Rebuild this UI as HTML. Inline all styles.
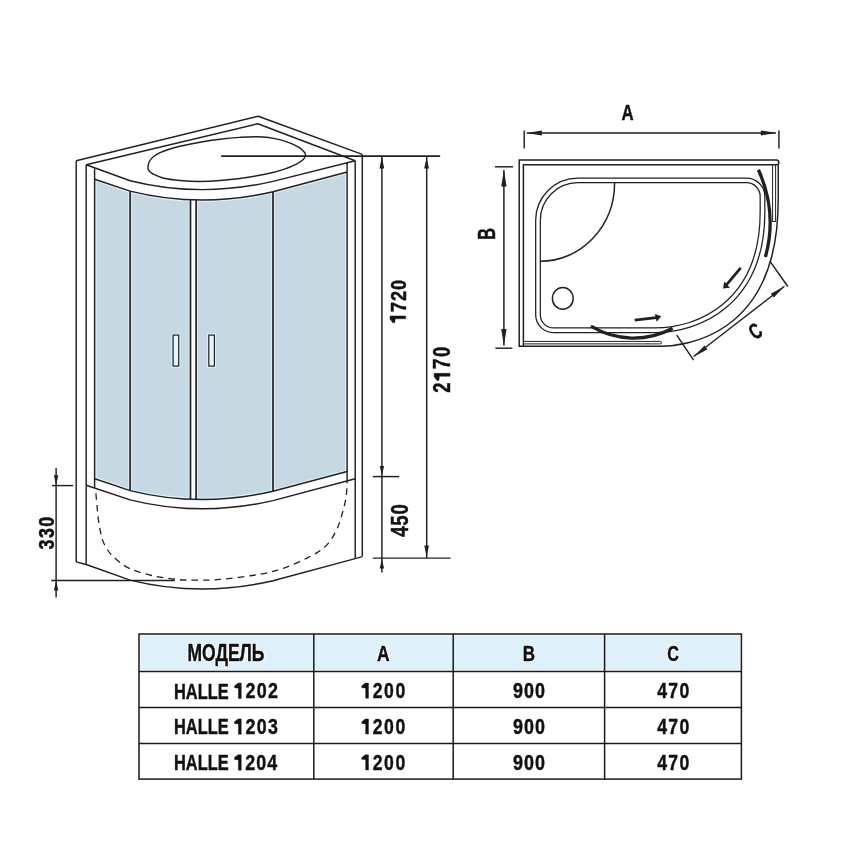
<!DOCTYPE html>
<html><head><meta charset="utf-8"><style>
html,body{margin:0;padding:0;background:#fff;}
svg{display:block;will-change:transform;}
text{font-family:"Liberation Sans",sans-serif;font-weight:bold;fill:#111;}
</style></head><body>
<svg width="850" height="850" viewBox="0 0 850 850">
<rect width="850" height="850" fill="#fff"/>
<defs><clipPath id="gc"><path d="M94.8,179.3 L130.1,191.1 Q200,208.6 273,191.8 L347.1,172 L347.1,471.5 L273,491.3 Q200,508.1 130.1,490.6 L94.8,478.8 Z"/></clipPath></defs>
<path d="M94.8,179.3 L130.1,191.1 Q200,208.6 273,191.8 L347.1,172 L347.1,471.5 L273,491.3 Q200,508.1 130.1,490.6 L94.8,478.8 Z" fill="#c6d9e3"/>
<g clip-path="url(#gc)">
<line x1="94.7" y1="150" x2="94.7" y2="520" stroke="#dbf0f8" stroke-width="3.8" fill="none"/>
<line x1="130.1" y1="150" x2="130.1" y2="520" stroke="#dbf0f8" stroke-width="3.8" fill="none"/>
<line x1="190.5" y1="150" x2="190.5" y2="520" stroke="#dbf0f8" stroke-width="3.8" fill="none"/>
<line x1="196.1" y1="150" x2="196.1" y2="520" stroke="#dbf0f8" stroke-width="3.8" fill="none"/>
<line x1="273" y1="150" x2="273" y2="520" stroke="#dbf0f8" stroke-width="3.8" fill="none"/>
<line x1="347.1" y1="150" x2="347.1" y2="520" stroke="#dbf0f8" stroke-width="3.8" fill="none"/>
<path d="M94.8,179.3 L130.1,191.1 Q200,208.6 273,191.8 L347.1,172.0" stroke="#dbf0f8" stroke-width="3.8" fill="none"/>
<path d="M94.8,478.8 L130.1,490.6 Q200,508.1 273,491.3 L347.1,471.5" stroke="#dbf0f8" stroke-width="3.8" fill="none"/>
</g>
<rect x="190.5" y="190" width="5.6" height="320" fill="#fff" clip-path="url(#gc)"/>
<g clip-path="url(#gc)">
<line x1="130.1" y1="160" x2="130.1" y2="520" stroke="#231f20" stroke-width="1.7" />
<line x1="190.5" y1="160" x2="190.5" y2="520" stroke="#231f20" stroke-width="1.7" />
<line x1="196.1" y1="160" x2="196.1" y2="520" stroke="#231f20" stroke-width="1.7" />
<line x1="273" y1="160" x2="273" y2="520" stroke="#231f20" stroke-width="1.7" />
</g>
<path d="M94.8,179.3 L130.1,191.1 Q200,208.6 273,191.8 L347.1,172.0" fill="none" stroke="#231f20" stroke-width="1.45" stroke-linejoin="round"/>
<path d="M94.8,478.8 L130.1,490.6 Q200,508.1 273,491.3 L347.1,471.5" fill="none" stroke="#231f20" stroke-width="1.45" stroke-linejoin="round"/>
<path d="M86.2,164.8 L130.1,180.7 Q200,198.2 273,181.4 L355.2,160.7" fill="none" stroke="#231f20" stroke-width="1.45" stroke-linejoin="round"/>
<path d="M86.2,485.2 L130.1,499.9 Q200,517.4 273,500.6 L355.2,478.8" fill="none" stroke="#231f20" stroke-width="1.45" stroke-linejoin="round"/>
<path d="M76.2,561.9 L86.2,564.5 L130.1,580.1 Q200,597.6 273,580.8 L355.2,558.6 L362.3,556.6" fill="none" stroke="#231f20" stroke-width="1.45" stroke-linejoin="round"/>
<line x1="76.2" y1="160.8" x2="76.2" y2="562" stroke="#231f20" stroke-width="1.45" />
<line x1="86.2" y1="164.8" x2="86.2" y2="564.5" stroke="#231f20" stroke-width="1.45" />
<line x1="94.6" y1="168.4" x2="94.6" y2="488" stroke="#231f20" stroke-width="1.45" />
<line x1="347.1" y1="162.4" x2="347.1" y2="480.6" stroke="#231f20" stroke-width="1.45" />
<line x1="355.2" y1="160.7" x2="355.2" y2="558.6" stroke="#231f20" stroke-width="1.45" />
<line x1="362.3" y1="154.4" x2="362.3" y2="556.6" stroke="#231f20" stroke-width="1.45" />
<path d="M76.2,160.8 L258.2,116.2 L362.3,154.4" fill="none" stroke="#231f20" stroke-width="1.45" stroke-linejoin="round"/>
<path d="M86.2,164.8 L257.8,123.7 L355.2,160.7" fill="none" stroke="#231f20" stroke-width="1.45" stroke-linejoin="round"/>
<path d="M147.90,167.60 C148.00,165.97 148.58,162.90 149.60,161.00 C150.62,159.10 152.27,157.60 154.00,156.20 C155.73,154.80 157.33,153.80 160.00,152.60 C162.67,151.40 166.67,150.05 170.00,149.00 C173.33,147.95 175.00,147.43 180.00,146.30 C185.00,145.17 193.33,143.38 200.00,142.20 C206.67,141.02 213.33,140.00 220.00,139.20 C226.67,138.40 233.67,137.80 240.00,137.40 C246.33,137.00 252.17,136.60 258.00,136.80 C263.83,137.00 269.83,137.63 275.00,138.60 C280.17,139.57 285.00,141.13 289.00,142.60 C293.00,144.07 296.40,145.75 299.00,147.40 C301.60,149.05 303.55,151.15 304.60,152.50 C305.65,153.85 305.48,154.37 305.30,155.50 C305.12,156.63 304.88,157.92 303.50,159.30 C302.12,160.68 300.42,162.08 297.00,163.80 C293.58,165.52 288.33,167.85 283.00,169.60 C277.67,171.35 272.17,172.82 265.00,174.30 C257.83,175.78 247.50,177.47 240.00,178.50 C232.50,179.53 226.67,180.02 220.00,180.50 C213.33,180.98 206.67,181.40 200.00,181.40 C193.33,181.40 186.17,181.07 180.00,180.50 C173.83,179.93 167.50,179.08 163.00,178.00 C158.50,176.92 155.33,175.20 153.00,174.00 C150.67,172.80 149.85,171.87 149.00,170.80 C148.15,169.73 147.80,169.23 147.90,167.60 Z" fill="none" stroke="#231f20" stroke-width="1.45" stroke-linejoin="round"/>
<rect x="173.1" y="335.1" width="5.6" height="31" fill="none" stroke="#dbf0f8" stroke-width="3.4"/>
<rect x="173.1" y="335.1" width="5.6" height="31" fill="#e2f6fc" stroke="#231f20" stroke-width="1.2"/>
<rect x="208.8" y="335.1" width="5.6" height="31" fill="none" stroke="#dbf0f8" stroke-width="3.4"/>
<rect x="208.8" y="335.1" width="5.6" height="31" fill="#e2f6fc" stroke="#231f20" stroke-width="1.2"/>
<path d="M95.90,493.20 C96.12,495.67 96.75,503.33 97.20,508.00 C97.65,512.67 97.97,516.87 98.60,521.20 C99.23,525.53 100.05,530.17 101.00,534.00 C101.95,537.83 102.40,540.57 104.30,544.20 C106.20,547.83 108.32,551.82 112.40,555.80 C116.48,559.78 122.22,564.82 128.80,568.10 C135.38,571.38 143.65,573.58 151.90,575.50 C160.15,577.42 170.28,578.83 178.30,579.60 C186.32,580.37 193.05,580.13 200.00,580.10 C206.95,580.07 210.78,580.25 220.00,579.40 C229.22,578.55 245.00,576.77 255.30,575.00 C265.60,573.23 272.98,571.73 281.80,568.80 C290.62,565.87 300.85,561.22 308.20,557.40 C315.55,553.58 321.05,550.77 325.90,545.90 C330.75,541.03 334.22,534.97 337.30,528.20 C340.38,521.43 342.85,511.33 344.40,505.30 C345.95,499.27 346.15,496.12 346.60,492.00 C347.05,487.88 347.02,482.50 347.10,480.60 " fill="none" stroke="#231f20" stroke-width="1.3" stroke-dasharray="6.6 5"/>
<line x1="221.6" y1="156.1" x2="439.5" y2="156.1" stroke="#231f20" stroke-width="1.6" stroke-linecap="round"/>
<line x1="381.9" y1="156" x2="381.9" y2="572.6" stroke="#231f20" stroke-width="1.45" />
<line x1="426.7" y1="156" x2="426.7" y2="558.1" stroke="#231f20" stroke-width="1.45" />
<line x1="372.8" y1="476.6" x2="399.2" y2="476.6" stroke="#231f20" stroke-width="1.45" />
<line x1="372.8" y1="558.1" x2="450.6" y2="558.1" stroke="#231f20" stroke-width="1.45" />
<path d="M381.9,156.6 L384.2,168.6 L379.5,168.6 Z" fill="#231f20"/>
<path d="M381.9,475.6 L379.7,466.1 L384.1,466.1 Z" fill="#231f20"/>
<path d="M381.9,559.0 L384.1,568.5 L379.7,568.5 Z" fill="#231f20"/>
<path d="M426.6,157.4 L429.0,168.6 L424.2,168.6 Z" fill="#231f20"/>
<path d="M426.6,557.2 L424.3,545.6 L428.9,545.6 Z" fill="#231f20"/>
<line x1="56.1" y1="467.9" x2="56.1" y2="597.6" stroke="#231f20" stroke-width="1.45" />
<line x1="52" y1="485.6" x2="73.2" y2="485.6" stroke="#231f20" stroke-width="1.45" />
<line x1="51.2" y1="580.5" x2="174.7" y2="580.5" stroke="#231f20" stroke-width="1.45" />
<path d="M56.1,485.3 L53.9,475.3 L58.3,475.3 Z" fill="#231f20"/>
<path d="M56.1,580.9 L58.3,590.6 L53.9,590.6 Z" fill="#231f20"/>
<line x1="524.2" y1="130.5" x2="524.2" y2="148.4" stroke="#231f20" stroke-width="1.45" />
<line x1="778.9" y1="130.5" x2="778.9" y2="148.4" stroke="#231f20" stroke-width="1.45" />
<line x1="526.7" y1="132.9" x2="775.9" y2="132.9" stroke="#231f20" stroke-width="1.45" />
<path d="M526.5,132.9 L541.9,130.4 L541.9,135.4 Z" fill="#231f20"/>
<path d="M776.2,132.9 L760.8,135.4 L760.8,130.4 Z" fill="#231f20"/>
<line x1="495" y1="166.8" x2="513" y2="166.8" stroke="#231f20" stroke-width="1.45" />
<line x1="495.4" y1="348.2" x2="512.4" y2="348.2" stroke="#231f20" stroke-width="1.45" />
<line x1="503.9" y1="170" x2="503.9" y2="345.4" stroke="#231f20" stroke-width="1.5" />
<path d="M503.9,169.9 L506.6,186.4 L501.2,186.4 Z" fill="#231f20"/>
<path d="M503.9,345.5 L501.2,329.0 L506.6,329.0 Z" fill="#231f20"/>
<path d="M776.5,160.1 L519.2,160.1 L519.2,346.2 L523.4,346.2 L523.4,164.7 L776.5,164.7 A2.3,2.3 0 0 0 776.5,160.1" fill="#fff" stroke="#231f20" stroke-width="1.5" stroke-linejoin="miter"/>
<path d="M778.2,165 L778.2,200 C778.2,337.7 683.1,346.3 660,346.3 L523.4,346.3" fill="none" stroke="#231f20" stroke-width="1.45" stroke-linejoin="round"/>
<rect x="772.6" y="165" width="3" height="56.5" fill="#fff" stroke="#231f20" stroke-width="1"/>
<rect x="523.5" y="341.4" width="138" height="2.5" rx="1.2" fill="#fff" stroke="#231f20" stroke-width="1"/>
<path d="M578,180.4 L746.5,180.4 A16,16 0 0 1 762.5,196.4 L762.5,212 C762.5,303.7 698.3,330.3 655,330.3 L553.5,330.3 A15.5,15.5 0 0 1 538,314.8 L538,220.4 A40,40 0 0 1 578,180.4 Z" fill="none" stroke="#231f20" stroke-width="5.9"/>
<path d="M578,180.4 L746.5,180.4 A16,16 0 0 1 762.5,196.4 L762.5,212 C762.5,303.7 698.3,330.3 655,330.3 L553.5,330.3 A15.5,15.5 0 0 1 538,314.8 L538,220.4 A40,40 0 0 1 578,180.4 Z" fill="none" stroke="#fff" stroke-width="3.4"/>
<path d="M614.6,182.8 A74,78.5 0 0 1 540.6,261.3" fill="none" stroke="#231f20" stroke-width="1.45" stroke-linejoin="round"/>
<ellipse cx="562.8" cy="298.4" rx="10.4" ry="10.9" fill="none" stroke="#231f20" stroke-width="1.45" stroke-linejoin="round"/>
<path d="M758.4,169.8 A128.4,128.4 0 0 1 765.4,257" fill="none" stroke="#231f20" stroke-width="3.3"/>
<path d="M590.9,326.2 A82.3,82.3 0 0 0 672.6,328.2" fill="none" stroke="#231f20" stroke-width="3.3"/>
<line x1="740.7" y1="267.8" x2="725.8" y2="285.6" stroke="#231f20" stroke-width="2.7" />
<path d="M723,288.4 L724.3,281.6 L730,287.8 Z" fill="#231f20"/>
<line x1="634.7" y1="320.2" x2="658.5" y2="317.3" stroke="#231f20" stroke-width="2.7" />
<path d="M661.3,316.2 L654.9,313.9 L656.6,321.7 Z" fill="#231f20"/>
<line x1="770.4" y1="261.8" x2="787.8" y2="286.5" stroke="#231f20" stroke-width="1.45" />
<line x1="676.7" y1="335.2" x2="693.6" y2="360.2" stroke="#231f20" stroke-width="1.45" />
<line x1="784.5" y1="286.3" x2="693.6" y2="356.5" stroke="#231f20" stroke-width="1.45" />
<path d="M784.5,286.3 L773.8,297.6 L770.8,293.8 Z" fill="#231f20"/>
<path d="M693.8,356.7 L704.5,345.4 L707.5,349.2 Z" fill="#231f20"/>
<g transform="translate(397.85,301.70) rotate(-90) scale(0.8000,1)"><path d="M-17.77,-7.82 L-17.77,7.82 L-21.39,7.82 L-21.39,-2.66 L-26.38,-3.13 L-26.38,-5.01 L-21.78,-7.82 Z" fill="#111" stroke="#111" stroke-width="0.45" stroke-linejoin="round"/><text x="-13.02" y="7.82" font-size="22.74" stroke="#111" stroke-width="0.45" stroke-linejoin="round" >7</text><text x="0.82" y="7.82" font-size="22.74" stroke="#111" stroke-width="0.45" stroke-linejoin="round" >2</text><text x="14.66" y="7.82" font-size="22.74" stroke="#111" stroke-width="0.45" stroke-linejoin="round" >0</text></g>
<g transform="translate(442.10,369.75) rotate(-90) scale(0.8000,1)"><text x="-28.62" y="7.97" font-size="23.16" stroke="#111" stroke-width="0.45" stroke-linejoin="round" >2</text><path d="M-4.52,-7.97 L-4.52,7.97 L-8.21,7.97 L-8.21,-2.71 L-13.29,-3.19 L-13.29,-5.10 L-8.61,-7.97 Z" fill="#111" stroke="#111" stroke-width="0.45" stroke-linejoin="round"/><text x="1.05" y="7.97" font-size="23.16" stroke="#111" stroke-width="0.45" stroke-linejoin="round" >7</text><text x="15.88" y="7.97" font-size="23.16" stroke="#111" stroke-width="0.45" stroke-linejoin="round" >0</text></g>
<g transform="translate(399.55,520.70) rotate(-90) scale(0.8000,1)"><text x="-19.97" y="8.02" font-size="23.31" letter-spacing="0.837" stroke="#111" stroke-width="0.45" stroke-linejoin="round" >450</text></g>
<g transform="translate(46.75,533.25) rotate(-90) scale(0.8000,1)"><text x="-20.33" y="7.70" font-size="22.43" letter-spacing="1.823" stroke="#111" stroke-width="0.45" stroke-linejoin="round" >330</text></g>
<g transform="translate(627.65,111.60) rotate(0) scale(0.7333,1)"><text x="-8.28" y="7.90" font-size="22.97" letter-spacing="0.000" stroke="#111" stroke-width="0.45" stroke-linejoin="round" >A</text></g>
<g transform="translate(486.35,233.75) rotate(-90) scale(0.6850,1)"><text x="-8.81" y="8.15" font-size="23.69" letter-spacing="0.000" stroke="#111" stroke-width="0.45" stroke-linejoin="round" >B</text></g>
<g transform="translate(755.40,331.10) rotate(-35) scale(0.6801,1)"><text x="-8.11" y="7.58" font-size="22.03" letter-spacing="0.000" stroke="#111" stroke-width="0.45" stroke-linejoin="round" >C</text></g>
<rect x="140.5" y="635.5" width="599.5" height="34.5" fill="#dff2fc"/>
<rect x="139" y="634" width="602.4" height="145.1" fill="none" stroke="#1a1a1a" stroke-width="1.5"/>
<line x1="139" y1="671.5" x2="741.4" y2="671.5" stroke="#1a1a1a" stroke-width="1.5"/>
<line x1="139" y1="707.5" x2="741.4" y2="707.5" stroke="#1a1a1a" stroke-width="1.5"/>
<line x1="139" y1="743.4" x2="741.4" y2="743.4" stroke="#1a1a1a" stroke-width="1.5"/>
<line x1="313.8" y1="634" x2="313.8" y2="779.1" stroke="#1a1a1a" stroke-width="1.5"/>
<line x1="453.2" y1="634" x2="453.2" y2="779.1" stroke="#1a1a1a" stroke-width="1.5"/>
<line x1="604.6" y1="634" x2="604.6" y2="779.1" stroke="#1a1a1a" stroke-width="1.5"/>
<g transform="translate(226.20,652.95) rotate(0) scale(0.7576,1)"><text x="-51.18" y="7.95" font-size="23.11" letter-spacing="0.000" style="fill:#fff;stroke:#fff;stroke-width:2.6px;stroke-linejoin:round">МОДЕЛЬ</text></g>
<g transform="translate(226.20,652.95) rotate(0) scale(0.7576,1)"><text x="-51.18" y="7.95" font-size="23.11" letter-spacing="0.000" stroke="#111" stroke-width="0.45" stroke-linejoin="round" >МОДЕЛЬ</text></g>
<g transform="translate(383.35,652.80) rotate(0) scale(0.7593,1)"><text x="-8.28" y="7.90" font-size="22.97" letter-spacing="0.000" style="fill:#fff;stroke:#fff;stroke-width:2.6px;stroke-linejoin:round">A</text></g>
<g transform="translate(383.35,652.80) rotate(0) scale(0.7593,1)"><text x="-8.28" y="7.90" font-size="22.97" letter-spacing="0.000" stroke="#111" stroke-width="0.45" stroke-linejoin="round" >A</text></g>
<g transform="translate(529.10,653.40) rotate(0) scale(0.7519,1)"><text x="-8.43" y="7.80" font-size="22.67" letter-spacing="0.000" style="fill:#fff;stroke:#fff;stroke-width:2.6px;stroke-linejoin:round">B</text></g>
<g transform="translate(529.10,653.40) rotate(0) scale(0.7519,1)"><text x="-8.43" y="7.80" font-size="22.67" letter-spacing="0.000" stroke="#111" stroke-width="0.45" stroke-linejoin="round" >B</text></g>
<g transform="translate(673.30,653.25) rotate(0) scale(0.7217,1)"><text x="-8.26" y="7.73" font-size="22.46" letter-spacing="0.000" style="fill:#fff;stroke:#fff;stroke-width:2.6px;stroke-linejoin:round">C</text></g>
<g transform="translate(673.30,653.25) rotate(0) scale(0.7217,1)"><text x="-8.26" y="7.73" font-size="22.46" letter-spacing="0.000" stroke="#111" stroke-width="0.45" stroke-linejoin="round" >C</text></g>
<g transform="translate(201.60,690.70) rotate(0) scale(0.7152,1)"><text x="-38.59" y="7.90" font-size="22.97" letter-spacing="0.000" stroke="#111" stroke-width="0.45" stroke-linejoin="round" >HALLE</text></g>
<g transform="translate(255.85,690.80) rotate(0) scale(0.8000,1)"><path d="M-18.24,-7.68 L-18.24,7.68 L-21.79,7.68 L-21.79,-2.61 L-26.69,-3.07 L-26.69,-4.91 L-22.18,-7.68 Z" fill="#111" stroke="#111" stroke-width="0.45" stroke-linejoin="round"/><text x="-13.06" y="7.68" font-size="22.32" stroke="#111" stroke-width="0.45" stroke-linejoin="round" >2</text><text x="1.06" y="7.68" font-size="22.32" stroke="#111" stroke-width="0.45" stroke-linejoin="round" >0</text><text x="15.17" y="7.68" font-size="22.32" stroke="#111" stroke-width="0.45" stroke-linejoin="round" >2</text></g>
<g transform="translate(383.15,690.70) rotate(0) scale(0.8000,1)"><path d="M-18.35,-7.58 L-18.35,7.58 L-21.86,7.58 L-21.86,-2.58 L-26.69,-3.03 L-26.69,-4.85 L-22.23,-7.58 Z" fill="#111" stroke="#111" stroke-width="0.45" stroke-linejoin="round"/><text x="-13.00" y="7.58" font-size="22.03" stroke="#111" stroke-width="0.45" stroke-linejoin="round" >2</text><text x="1.17" y="7.58" font-size="22.03" stroke="#111" stroke-width="0.45" stroke-linejoin="round" >0</text><text x="15.34" y="7.58" font-size="22.03" stroke="#111" stroke-width="0.45" stroke-linejoin="round" >0</text></g>
<g transform="translate(528.85,690.70) rotate(0) scale(0.8000,1)"><text x="-19.97" y="7.73" font-size="22.46" letter-spacing="1.308" stroke="#111" stroke-width="0.45" stroke-linejoin="round" >900</text></g>
<g transform="translate(672.95,690.70) rotate(0) scale(0.8000,1)"><text x="-19.77" y="7.58" font-size="22.03" letter-spacing="1.675" stroke="#111" stroke-width="0.45" stroke-linejoin="round" >470</text></g>
<g transform="translate(201.60,726.50) rotate(0) scale(0.7152,1)"><text x="-38.59" y="7.90" font-size="22.97" letter-spacing="0.000" stroke="#111" stroke-width="0.45" stroke-linejoin="round" >HALLE</text></g>
<g transform="translate(255.85,726.60) rotate(0) scale(0.8000,1)"><path d="M-18.25,-7.68 L-18.25,7.65 L-21.80,7.65 L-21.80,-2.62 L-26.69,-3.08 L-26.69,-4.92 L-22.18,-7.68 Z" fill="#111" stroke="#111" stroke-width="0.45" stroke-linejoin="round"/><text x="-13.08" y="7.65" font-size="22.28" stroke="#111" stroke-width="0.45" stroke-linejoin="round" >2</text><text x="1.01" y="7.65" font-size="22.28" stroke="#111" stroke-width="0.45" stroke-linejoin="round" >0</text><text x="15.10" y="7.65" font-size="22.28" stroke="#111" stroke-width="0.45" stroke-linejoin="round" >3</text></g>
<g transform="translate(383.15,726.50) rotate(0) scale(0.8000,1)"><path d="M-18.35,-7.58 L-18.35,7.58 L-21.86,7.58 L-21.86,-2.58 L-26.69,-3.03 L-26.69,-4.85 L-22.23,-7.58 Z" fill="#111" stroke="#111" stroke-width="0.45" stroke-linejoin="round"/><text x="-13.00" y="7.58" font-size="22.03" stroke="#111" stroke-width="0.45" stroke-linejoin="round" >2</text><text x="1.17" y="7.58" font-size="22.03" stroke="#111" stroke-width="0.45" stroke-linejoin="round" >0</text><text x="15.34" y="7.58" font-size="22.03" stroke="#111" stroke-width="0.45" stroke-linejoin="round" >0</text></g>
<g transform="translate(528.85,726.50) rotate(0) scale(0.8000,1)"><text x="-19.97" y="7.73" font-size="22.46" letter-spacing="1.308" stroke="#111" stroke-width="0.45" stroke-linejoin="round" >900</text></g>
<g transform="translate(672.95,726.50) rotate(0) scale(0.8000,1)"><text x="-19.77" y="7.58" font-size="22.03" letter-spacing="1.675" stroke="#111" stroke-width="0.45" stroke-linejoin="round" >470</text></g>
<g transform="translate(201.60,762.40) rotate(0) scale(0.7152,1)"><text x="-38.59" y="7.90" font-size="22.97" letter-spacing="0.000" stroke="#111" stroke-width="0.45" stroke-linejoin="round" >HALLE</text></g>
<g transform="translate(255.85,762.50) rotate(0) scale(0.8000,1)"><path d="M-18.24,-7.68 L-18.24,7.68 L-21.79,7.68 L-21.79,-2.61 L-26.69,-3.07 L-26.69,-4.91 L-22.18,-7.68 Z" fill="#111" stroke="#111" stroke-width="0.45" stroke-linejoin="round"/><text x="-13.32" y="7.68" font-size="22.32" stroke="#111" stroke-width="0.45" stroke-linejoin="round" >2</text><text x="0.54" y="7.68" font-size="22.32" stroke="#111" stroke-width="0.45" stroke-linejoin="round" >0</text><text x="14.39" y="7.68" font-size="22.32" stroke="#111" stroke-width="0.45" stroke-linejoin="round" >4</text></g>
<g transform="translate(383.15,762.40) rotate(0) scale(0.8000,1)"><path d="M-18.35,-7.58 L-18.35,7.58 L-21.86,7.58 L-21.86,-2.58 L-26.69,-3.03 L-26.69,-4.85 L-22.23,-7.58 Z" fill="#111" stroke="#111" stroke-width="0.45" stroke-linejoin="round"/><text x="-13.00" y="7.58" font-size="22.03" stroke="#111" stroke-width="0.45" stroke-linejoin="round" >2</text><text x="1.17" y="7.58" font-size="22.03" stroke="#111" stroke-width="0.45" stroke-linejoin="round" >0</text><text x="15.34" y="7.58" font-size="22.03" stroke="#111" stroke-width="0.45" stroke-linejoin="round" >0</text></g>
<g transform="translate(528.85,762.40) rotate(0) scale(0.8000,1)"><text x="-19.97" y="7.73" font-size="22.46" letter-spacing="1.308" stroke="#111" stroke-width="0.45" stroke-linejoin="round" >900</text></g>
<g transform="translate(672.95,762.40) rotate(0) scale(0.8000,1)"><text x="-19.77" y="7.58" font-size="22.03" letter-spacing="1.675" stroke="#111" stroke-width="0.45" stroke-linejoin="round" >470</text></g>
</svg>
</body></html>
